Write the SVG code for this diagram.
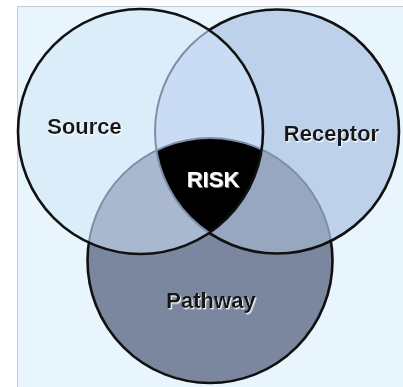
<svg xmlns="http://www.w3.org/2000/svg" width="403" height="387" viewBox="0 0 403 387">
  <style>
    .lbl { font-family: "Liberation Sans", Arial, sans-serif; font-weight: bold; font-size: 22px; text-anchor: middle; }
    .dark { fill: #141414; filter: url(#whiteShadow); }
    .light { fill: #ffffff; filter: url(#greyShadow); }
    .edge { fill: none; stroke: #111111; stroke-width: 2.6; }
    .hidden { fill: none; stroke: #7d8ea8; stroke-width: 2; }
  </style>
  <defs>
    <filter id="whiteShadow" x="-10%" y="-20%" width="120%" height="150%">
      <feDropShadow dx="1.2" dy="1.4" stdDeviation="0.4" flood-color="#ffffff" flood-opacity="0.85"/>
    </filter>
    <filter id="greyShadow" x="-10%" y="-20%" width="120%" height="150%">
      <feDropShadow dx="1" dy="1" stdDeviation="0.4" flood-color="#8a8f98" flood-opacity="1"/>
    </filter>
    <clipPath id="cS"><circle cx="140.5" cy="131.5" r="122.5"/></clipPath>
    <clipPath id="cR"><circle cx="277" cy="131.5" r="122"/></clipPath>
    <clipPath id="cSR"><circle cx="140.5" cy="131.5" r="122.5"/><circle cx="277" cy="131.5" r="122"/></clipPath>
    <mask id="mOutS" maskUnits="userSpaceOnUse" x="0" y="0" width="403" height="387">
      <rect x="0" y="0" width="403" height="387" fill="#fff"/>
      <circle cx="140.5" cy="131.5" r="122.5" fill="#000"/>
    </mask>
    <mask id="mOutSR" maskUnits="userSpaceOnUse" x="0" y="0" width="403" height="387">
      <rect x="0" y="0" width="403" height="387" fill="#fff"/>
      <circle cx="140.5" cy="131.5" r="122.5" fill="#000"/>
      <circle cx="277" cy="131.5" r="122" fill="#000"/>
    </mask>
  </defs>

  <rect x="0" y="0" width="403" height="387" fill="#ffffff"/>
  <rect x="17.5" y="6.5" width="390" height="385" fill="#e8f5fc" stroke="#c3ccd4" stroke-width="1"/>

  <!-- region fills -->
  <g id="source">
    <circle cx="140.5" cy="131.5" r="122.5" fill="#dcedfa"/>
  </g>
  <g id="receptor">
    <circle cx="277" cy="131.5" r="122" fill="#bed1eb"/>
  </g>
  <g id="pathway">
    <circle cx="210" cy="260.5" r="122.5" fill="#7b879e"/>
  </g>
  <g id="overlaps">
    <circle cx="277" cy="131.5" r="122" fill="#cadcf3" clip-path="url(#cS)"/>
    <circle cx="210" cy="260.5" r="122.5" fill="#a9b8cf" clip-path="url(#cS)"/>
    <circle cx="210" cy="260.5" r="122.5" fill="#98a7c0" clip-path="url(#cR)"/>
  </g>
  <g id="risk">
    <g clip-path="url(#cR)">
      <circle cx="210" cy="260.5" r="122.5" fill="#000000" clip-path="url(#cS)"/>
    </g>
  </g>

  <!-- outlines -->
  <g id="outlines">
    <circle class="hidden" cx="210" cy="260.5" r="122.5" clip-path="url(#cSR)"/>
    <circle class="edge" cx="210" cy="260.5" r="122.5" mask="url(#mOutSR)"/>
    <circle class="hidden" cx="277" cy="131.5" r="122" clip-path="url(#cS)"/>
    <circle class="edge" cx="277" cy="131.5" r="122" mask="url(#mOutS)"/>
    <circle class="edge" cx="140.5" cy="131.5" r="122.5"/>
  </g>

  <!-- labels -->
  <g id="labels">
    <text class="lbl dark" x="84.5" y="134">Source</text>
    <text class="lbl dark" x="331.5" y="141">Receptor</text>
    <text class="lbl light" x="213" y="187">RISK</text>
    <text class="lbl dark" x="211" y="308">Pathway</text>
  </g>
</svg>
